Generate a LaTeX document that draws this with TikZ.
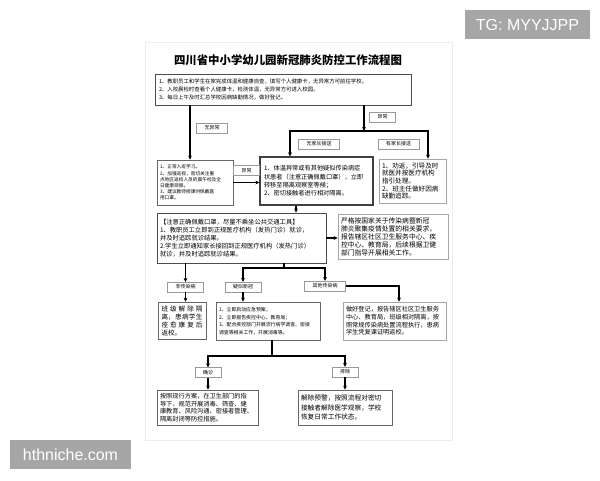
\documentclass[tikz,border=0pt]{standalone}
\usepackage{fontspec}
\setmainfont{Liberation Sans}
\newfontfamily\cjk{Noto Sans CJK SC}
\usetikzlibrary{calc}
\usetikzlibrary{arrows.meta}
\XeTeXlinebreaklocale "zh"
\XeTeXlinebreakskip = 0pt plus 1pt

\newcommand{\cnsize}[2]{\cjk\fontsize{#1}{#2}\selectfont}

\tikzset{
    arr/.style={line width=1.1pt,-{Stealth[length=4pt,width=3.8pt]}},
    lnk/.style={line width=1.1pt},
    box/.style={draw=black!70,line width=0.9pt,fill=white,inner sep=3pt,align=left},
    softbox/.style={box,draw=black!35,line width=0.7pt},
    tag/.style={draw=black!40,line width=0.6pt,fill=white,inner xsep=8pt,inner ysep=2.5pt,font=\cnsize{5}{6}},
    wmark/.style={fill=black!35,text=white,font=\fontsize{16}{18}\selectfont,inner sep=0pt}
}

\begin{document}
\begin{tikzpicture}[x=1pt,y=-1pt]
    \useasboundingbox (0,0) rectangle (600,480);
    \draw [black!7,line width=0.8pt] (145,42) rectangle (452,440);

    \node [font=\cjk\bfseries\fontsize{11.4}{13}\selectfont] (title) at (288,60.5) {四川省中小学幼儿园新冠肺炎防控工作流程图};
    \node [box,minimum width=256pt,minimum height=31pt,text width=248pt,font=\cnsize{5.4}{7.8}] (check) at (283,89.5)
        {1、教职员工和学生在家完成体温和健康自查，填写个人健康卡，无异常方可前往学校。\\
         2、入校晨检时查看个人健康卡，检测体温，无异常方可进入校园。\\
         3、每日上午及时汇总学校因病缺勤情况，做好登记。};

    \node [box,draw=black!60,line width=0.8pt,minimum width=76pt,minimum height=45pt,text width=70pt,font=\cnsize{4.7}{6.2}] (normal) at (195,182.5)
        {1、正常入班学习。\\2、加强巡视，密切关注重\\点地区返校人员的晨午检及全\\日健康观察。\\3、建议教师授课时佩戴医\\用口罩。};
    \node [box,draw=black!75,line width=1.2pt,minimum width=113pt,minimum height=48pt,text width=105pt,font=\cnsize{6.2}{8.4}] (isolate) at (316.5,181)
        {1、体温异常或有其他疑似传染病症\\状患者（注意正确佩戴口罩），立即\\转移至隔离观察室等候；\\2、密切接触者进行相对隔离。};
    \node [softbox,minimum width=67pt,minimum height=44pt,text width=61pt,font=\cnsize{6.6}{7.6}] (home) at (412.5,181)
        {1、劝返，引导及时\\就医并按医疗机构\\指引处理。\\2、班主任做好因病\\缺勤追踪。};

    \node [box,minimum width=169pt,minimum height=50pt,text width=163pt,font=\cnsize{6.3}{8}] (clinic) at (241.5,238)
        {【注意正确佩戴口罩，尽量不乘坐公共交通工具】\\
         1、教职员工立即到正规医疗机构（发热门诊）就诊，\\并及时追踪就诊结果。\\
         2.学生立即通知家长接回到正规医疗机构（发热门诊）\\就诊，并及时追踪就诊结果。};
    \node [softbox,minimum width=110pt,minimum height=45pt,text width=104pt,font=\cnsize{6.8}{8}] (report) at (393,236.5)
        {严格按国家关于传染病暨新冠\\肺炎聚集疫情处置的相关要求，\\报告辖区社区卫生服务中心、疾\\控中心、教育局，后续根据卫健\\部门指导开展相关工作。};

    \node [box,draw=black!60,line width=0.8pt,minimum width=48pt,minimum height=37pt,text width=41pt,align=justify,font=\cnsize{6.6}{8}] (nonbox) at (182,320.5)
        {班级解除隔\linebreak 离，患病学生\linebreak 痊愈康复后\linebreak 返校。};
    \node [box,draw=black!60,line width=0.8pt,minimum width=104pt,minimum height=38pt,text width=98pt,font=\cnsize{4.9}{7.5}] (covidbox) at (268,321)
        {1、立即启动应急预案；\\2、立即报告疾控中心、教育局；\\3、配合疾控部门开展流行病学调查、密接\\调查等相关工作，开展消毒等。};
    \node [softbox,minimum width=103pt,minimum height=38pt,text width=97pt,font=\cnsize{6.2}{7.6}] (otherbox) at (394.5,321)
        {做好登记，报告辖区社区卫生服务\\中心、教育局，班级相对隔离，按\\照常规传染病处置流程执行，患病\\学生凭复课证明返校。};

    \node [box,draw=black!60,line width=0.8pt,minimum width=101pt,minimum height=35pt,text width=95pt,font=\cnsize{6.2}{7.6}] (confbox) at (207.5,407.5)
        {按照现行方案，在卫生部门的指\\导下，规范开展消毒、筛查、健\\康教育、风险沟通、密接者管理、\\隔离封闭等防控措施。};
    \node [box,draw=black!60,line width=0.8pt,minimum width=94pt,minimum height=35pt,text width=88pt,font=\cnsize{6.7}{9.5}] (exclbox) at (345,407.5)
        {解除预警，按照流程对密切\\接触者解除医学观察，学校\\恢复日常工作状态。};

    \coordinate (okIn) at ([xshift=-5pt]normal.north);
    \coordinate (abnTop) at (364,131);
    \coordinate (isoIn) at ([xshift=-26.5pt]isolate.north);
    \coordinate (homeIn) at ([xshift=15.5pt]home.north);
    \coordinate (clinicIn) at ([xshift=-20.5pt]isolate.south);
    \coordinate (split2) at (284,268);
    \coordinate (split3) at (272,356);
    \coordinate (otherIn) at ([xshift=4.5pt]otherbox.north);

    \node [tag] (tNo) at (212,128) {无异常};
    \node [tag] (tYes) at (382.5,117) {异常};
    \node [tag] (tSelf) at (319,144) {无家长接送};
    \node [tag] (tParent) at (398.5,144) {有家长接送};
    \node [tag] (tLater) at (246.5,170.5) {异常};
    \node [tag] (tNon) at (185.5,287) {非传染病};
    \node [tag] (tCovid) at (243,287) {疑似新冠};
    \node [tag] (tOther) at (325,286) {其他传染病};
    \node [tag] (tConf) at (208,372.5) {确诊};
    \node [tag] (tExcl) at (345,372) {排除};

    \draw [arr] (okIn |- check.south) -- (okIn);
    \draw [arr] (abnTop |- check.south) -- (abnTop);
    \draw [arr] (abnTop) -| (isoIn);
    \draw [arr] (abnTop) -| (homeIn);
    \draw [arr] (normal.east) -- (normal.east -| isolate.west);
    \draw [arr] (clinicIn) -- (clinicIn |- clinic.north);
    \draw [arr] (clinic.east) -- (clinic.east -| report.west);
    \draw [arr] (tNon.north |- clinic.south) -- (tNon.north);
    \draw [lnk] (split2 |- clinic.south) -- (split2);
    \draw [arr] (split2) -| (tCovid.north);
    \draw [arr] (split2) -| (tOther.north);
    \draw [arr] (tNon.south) -- (tNon.south |- nonbox.north);
    \draw [arr] (tCovid.south) -- (tCovid.south |- covidbox.north);
    \draw [arr] (tOther.east) -| (otherIn);
    \draw [lnk] (split3 |- covidbox.south) -- (split3);
    \draw [arr] (split3) -| (tConf.north);
    \draw [arr] (split3) -| (tExcl.north);
    \draw [arr] (tConf.south) -- (tConf.south |- confbox.north);
    \draw [arr] (tExcl.south) -- (tExcl.south |- exclbox.north);

    \node [wmark,minimum width=125pt,minimum height=29pt] (tg) at (527.5,24.5) {TG: MYYJJPP};
    \node [wmark,minimum width=121pt,minimum height=29pt] (site) at (70.5,454.5) {hthniche.com};
\end{tikzpicture}
\end{document}
